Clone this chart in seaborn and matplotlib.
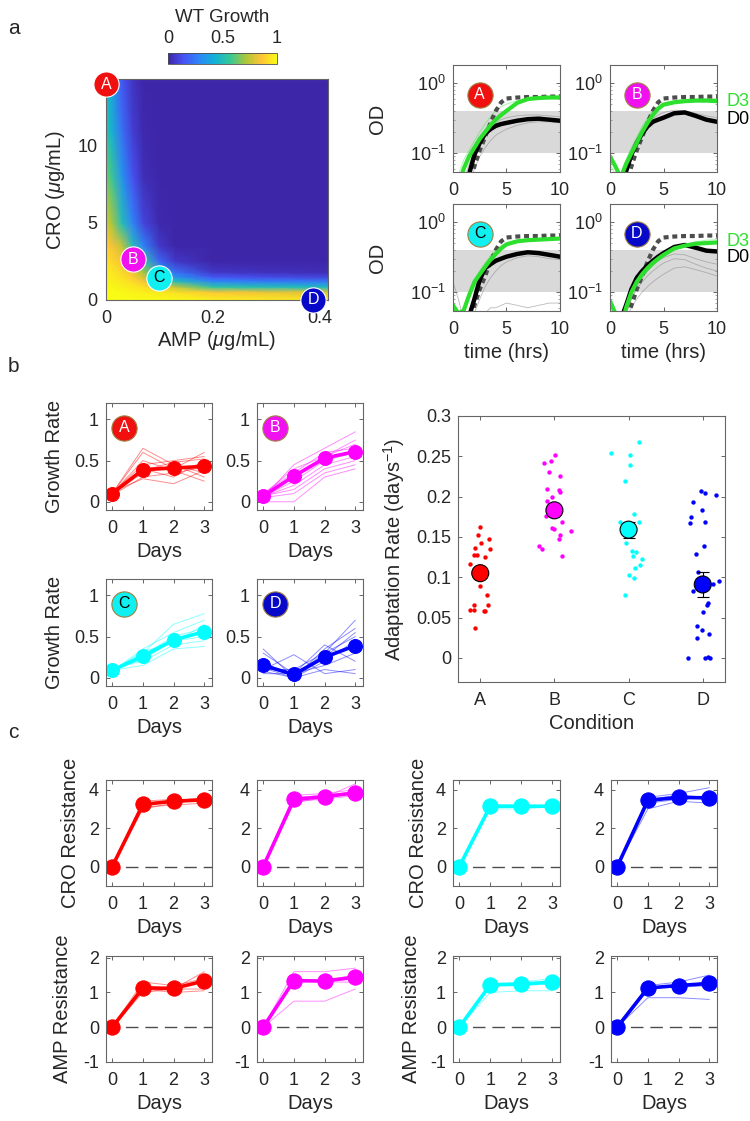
import matplotlib
matplotlib.use("Agg")
import matplotlib.pyplot as plt
from matplotlib.colors import LinearSegmentedColormap
import numpy as np
import pandas as pd
import seaborn as sns

sns.set_style("ticks")
plt.rcParams["font.family"] = ["Liberation Sans", "DejaVu Sans"]
plt.rcParams["axes.unicode_minus"] = False
plt.rcParams["mathtext.fontset"] = "custom"
plt.rcParams["mathtext.rm"] = "Liberation Sans"
plt.rcParams["mathtext.it"] = "Liberation Sans:italic"

W, H = 750, 1121
LABEL_FS = 14.5
TICK_FS = 13

conditions = ["A", "B", "C", "D"]
line_colors = ["#ff0000", "#ff00ff", "#00ffff", "#0000ff"]
badge_colors = ["#f01010", "#f010f0", "#10f0f0", "#0808c8"]
badge_text = ["white", "white", "black", "white"]

# ---- panel a: WT growth landscape (values read at grid nodes)
amp_nodes = [0, 0.01, 0.03, 0.05, 0.07, 0.1, 0.13, 0.2, 0.3, 0.415]
cro_nodes = [0, 0.5, 0.85, 1.2, 1.5, 1.8, 2.5, 3.5, 5, 8, 11, 14.35]
wt_growth = [
    [1.00, 1.00, 1.00, 1.00, 1.00, 1.00, 0.99, 0.97, 0.95, 0.93],
    [1.00, 1.00, 1.00, 0.98, 0.97, 0.95, 0.93, 0.86, 0.83, 0.80],
    [0.99, 0.99, 0.97, 0.95, 0.93, 0.85, 0.75, 0.55, 0.50, 0.48],
    [0.98, 0.97, 0.95, 0.92, 0.85, 0.68, 0.50, 0.30, 0.26, 0.25],
    [0.97, 0.96, 0.93, 0.88, 0.78, 0.52, 0.33, 0.15, 0.12, 0.10],
    [0.96, 0.95, 0.91, 0.84, 0.70, 0.42, 0.22, 0.06, 0.04, 0.03],
    [0.93, 0.91, 0.85, 0.72, 0.55, 0.20, 0.06, 0.00, 0.00, 0.00],
    [0.88, 0.85, 0.75, 0.50, 0.28, 0.06, 0.00, 0.00, 0.00, 0.00],
    [0.78, 0.72, 0.50, 0.28, 0.10, 0.01, 0.00, 0.00, 0.00, 0.00],
    [0.65, 0.58, 0.33, 0.14, 0.03, 0.00, 0.00, 0.00, 0.00, 0.00],
    [0.52, 0.45, 0.22, 0.08, 0.01, 0.00, 0.00, 0.00, 0.00, 0.00],
    [0.45, 0.38, 0.16, 0.05, 0.00, 0.00, 0.00, 0.00, 0.00, 0.00],
]
cond_amp = [0.0, 0.05, 0.10, 0.387]
cond_cro = [14.0, 2.66, 1.43, 0.0]

parula = LinearSegmentedColormap.from_list("parula", [
    (0.2422, 0.1504, 0.6603), (0.2810, 0.3228, 0.9579), (0.1786, 0.5289, 0.9682),
    (0.0689, 0.6948, 0.8394), (0.2161, 0.7843, 0.5923), (0.6720, 0.7793, 0.2227),
    (0.9970, 0.7659, 0.2199), (0.9769, 0.9839, 0.0805)])

# ---- panel a: OD curves
od_time = [0, 0.5, 1, 1.5, 2, 2.5, 3, 3.5, 4, 4.5, 5, 6, 7, 8, 9, 10]
od_ref = [0.005, 0.008, 0.015, 0.035, 0.065, 0.11, 0.17, 0.27, 0.40, 0.53, 0.60, 0.62, 0.63, 0.63, 0.64, 0.64]
od_d0 = {
    "A": [0.01, 0.015, 0.025, 0.05, 0.095, 0.14, 0.19, 0.22, 0.245, 0.26, 0.27, 0.29, 0.305, 0.31, 0.30, 0.29],
    "B": [0.01, 0.015, 0.03, 0.055, 0.095, 0.14, 0.19, 0.24, 0.28, 0.30, 0.32, 0.37, 0.38, 0.34, 0.30, 0.28],
    "C": [0.01, 0.015, 0.025, 0.045, 0.08, 0.15, 0.22, 0.25, 0.28, 0.30, 0.32, 0.35, 0.37, 0.36, 0.34, 0.32],
    "D": [0.01, 0.015, 0.04, 0.065, 0.11, 0.16, 0.20, 0.24, 0.28, 0.32, 0.36, 0.44, 0.47, 0.43, 0.39, 0.38],
}
od_d3 = {
    "A": [0.02, 0.035, 0.06, 0.09, 0.12, 0.16, 0.20, 0.25, 0.30, 0.35, 0.40, 0.52, 0.59, 0.61, 0.62, 0.62],
    "B": [0.09, 0.065, 0.045, 0.07, 0.10, 0.14, 0.20, 0.27, 0.35, 0.43, 0.49, 0.53, 0.55, 0.56, 0.56, 0.55],
    "C": [0.065, 0.05, 0.055, 0.09, 0.14, 0.18, 0.23, 0.29, 0.35, 0.42, 0.48, 0.53, 0.55, 0.56, 0.57, 0.58],
    "D": [0.075, 0.05, 0.03, 0.06, 0.10, 0.14, 0.18, 0.22, 0.26, 0.30, 0.34, 0.42, 0.46, 0.49, 0.50, 0.51],
}
# a few of the faint single-replicate traces
od_faint_d0 = {
    "A": [[0.01, 0.02, 0.04, 0.07, 0.11, 0.15, 0.19, 0.23, 0.27, 0.30, 0.32, 0.34, 0.35, 0.35, 0.34, 0.33],
          [0.01, 0.015, 0.02, 0.035, 0.06, 0.09, 0.12, 0.15, 0.18, 0.2, 0.22, 0.25, 0.27, 0.28, 0.28, 0.27]],
    "B": [[0.01, 0.02, 0.035, 0.06, 0.1, 0.15, 0.2, 0.26, 0.31, 0.35, 0.38, 0.41, 0.4, 0.37, 0.34, 0.32]],
    "C": [[0.14, 0.08, 0.04, 0.03, 0.05, 0.08, 0.12, 0.16, 0.2, 0.24, 0.27, 0.31, 0.33, 0.32, 0.3, 0.29],
          [0.01, 0.01, 0.015, 0.02, 0.03, 0.04, 0.05, 0.06, 0.06, 0.065, 0.07, 0.065, 0.06, 0.065, 0.07, 0.07]],
    "D": [[0.01, 0.015, 0.03, 0.05, 0.08, 0.11, 0.14, 0.17, 0.20, 0.23, 0.26, 0.30, 0.29, 0.25, 0.22, 0.20],
          [0.01, 0.015, 0.025, 0.04, 0.06, 0.08, 0.10, 0.12, 0.14, 0.16, 0.18, 0.22, 0.23, 0.21, 0.19, 0.17],
          [0.01, 0.015, 0.03, 0.05, 0.08, 0.12, 0.16, 0.20, 0.24, 0.28, 0.31, 0.35, 0.34, 0.30, 0.27, 0.25]],
}
od_faint_d3 = {
    "A": [[0.03, 0.05, 0.08, 0.11, 0.15, 0.2, 0.26, 0.33, 0.4, 0.46, 0.5, 0.56, 0.6, 0.63, 0.64, 0.65]],
    "B": [[0.07, 0.05, 0.05, 0.08, 0.12, 0.17, 0.24, 0.32, 0.4, 0.47, 0.52, 0.56, 0.58, 0.59, 0.6, 0.6]],
    "C": [[0.05, 0.045, 0.06, 0.1, 0.15, 0.2, 0.26, 0.33, 0.4, 0.46, 0.5, 0.55, 0.57, 0.58, 0.59, 0.6]],
    "D": [[0.06, 0.045, 0.05, 0.07, 0.1, 0.13, 0.16, 0.2, 0.24, 0.28, 0.32, 0.4, 0.47, 0.52, 0.55, 0.56]],
}

# ---- panel b: growth rate
days = [0, 1, 2, 3]
growth_mean = {
    "A": [0.10, 0.39, 0.41, 0.43],
    "B": [0.07, 0.31, 0.53, 0.61],
    "C": [0.09, 0.26, 0.46, 0.56],
    "D": [0.15, 0.04, 0.25, 0.39],
}
growth_reps = {
    "A": [[0.10, 0.65, 0.45, 0.35], [0.10, 0.60, 0.40, 0.60], [0.11, 0.45, 0.50, 0.55],
          [0.09, 0.40, 0.30, 0.50], [0.10, 0.35, 0.45, 0.30], [0.08, 0.30, 0.35, 0.42],
          [0.12, 0.28, 0.22, 0.38], [0.10, 0.50, 0.38, 0.25], [0.09, 0.38, 0.48, 0.52]],
    "B": [[0.05, 0.45, 0.65, 0.85], [0.08, 0.30, 0.55, 0.70], [0.06, 0.20, 0.45, 0.55],
          [0.10, 0.35, 0.60, 0.65], [0.07, 0.15, 0.40, 0.50], [0.05, 0.10, 0.35, 0.45],
          [0.09, 0.40, 0.55, 0.75], [0.06, 0.25, 0.50, 0.60], [0.00, 0.00, 0.30, 0.40]],
    "C": [[0.08, 0.35, 0.55, 0.70], [0.10, 0.30, 0.65, 0.78], [0.12, 0.20, 0.40, 0.45],
          [0.09, 0.15, 0.35, 0.38], [0.10, 0.28, 0.50, 0.60], [0.11, 0.22, 0.45, 0.50],
          [0.08, 0.32, 0.42, 0.65]],
    "D": [[0.35, 0.00, 0.25, 0.55], [0.10, 0.28, 0.05, 0.10], [0.20, 0.00, 0.35, 0.60],
          [0.05, 0.05, 0.15, 0.30], [0.15, 0.02, 0.30, 0.70], [0.08, 0.00, 0.20, 0.45],
          [0.30, 0.05, 0.40, 0.20], [0.12, 0.00, 0.10, 0.05], [0.10, 0.10, 0.30, 0.50]],
}

# ---- panel b: adaptation rate
adapt_x = {
    "A": [1.0, 0.964, 1.112, 1.009, 0.933, 1.126, 0.91, 0.955, 1.058, 0.865, 1.0, 1.09,
          0.919, 1.099, 0.856, 0.91, 1.045, 1.067, 0.933, 1.03, 0.97],
    "B": [2.013, 1.856, 1.956, 1.923, 2.081, 1.901, 2.058, 2.072, 1.969, 1.901, 1.888,
          2.103, 2.229, 1.969, 1.99, 2.081, 2.067, 1.789, 1.834, 2.103, 2.04],
    "C": [2.758, 3.139, 3.013, 3.022, 2.956, 3.067, 2.879, 3.139, 2.969, 3.045, 3.103,
          3.058, 3.179, 3.148, 3.09, 3.004, 3.072, 2.956],
    "D": [3.982, 4.027, 4.184, 3.87, 3.848, 3.996, 3.834, 4.027, 3.915, 4.013, 3.937,
          4.139, 4.215, 3.87, 4.071, 4.063, 4.004, 3.929, 3.996, 3.929, 4.081, 3.802,
          4.027, 4.071, 4.104],
}
adapt_y = {
    "A": [0.162, 0.152, 0.147, 0.143, 0.136, 0.135, 0.128, 0.128, 0.125, 0.117, 0.089, 0.078,
          0.066, 0.065, 0.059, 0.059, 0.058, 0.058, 0.037, 0.108, 0.100],
    "B": [0.252, 0.242, 0.244, 0.230, 0.225, 0.209, 0.208, 0.206, 0.200, 0.194, 0.176,
          0.169, 0.157, 0.161, 0.160, 0.152, 0.148, 0.139, 0.135, 0.126, 0.185],
    "C": [0.254, 0.268, 0.251, 0.239, 0.219, 0.179, 0.169, 0.168, 0.143, 0.132, 0.131,
          0.126, 0.122, 0.115, 0.111, 0.103, 0.099, 0.078],
    "D": [0.2075, 0.205, 0.202, 0.193, 0.175, 0.184, 0.167, 0.169, 0.129, 0.139, 0.106,
          0.092, 0.095, 0.083, 0.068, 0.065, 0.057, 0.040, 0.035, 0.025, 0.029, 0.0,
          0.0, 0.001, 0.0],
}
adapt_mean = [0.105, 0.183, 0.159, 0.091]
adapt_err = [0.006, 0.006, 0.010, 0.015]

# ---- panel c: resistance
cro_mean = {"A": [0, 3.23, 3.40, 3.47], "B": [0, 3.49, 3.64, 3.83],
            "C": [0, 3.14, 3.14, 3.14], "D": [0, 3.44, 3.60, 3.57]}
cro_reps = {
    "A": [[0, 3.0, 3.3, 3.5], [0, 3.4, 3.5, 3.4], [0, 3.1, 3.2, 3.3], [0, 3.3, 3.4, 3.6]],
    "B": [[0, 3.3, 3.6, 4.3], [0, 3.6, 3.7, 3.9], [0, 3.4, 3.5, 3.7], [0, 3.7, 3.8, 4.0]],
    "C": [[0, 3.1, 3.1, 3.2], [0, 3.2, 3.2, 3.1], [0, 3.0, 3.0, 3.1]],
    "D": [[0, 3.0, 3.4, 3.3], [0, 3.6, 3.8, 4.1], [0, 3.3, 3.5, 3.6], [0, 3.5, 3.7, 3.6]],
}
amp_mean = {"A": [0, 1.13, 1.12, 1.33], "B": [0, 1.34, 1.33, 1.44],
            "C": [0, 1.22, 1.24, 1.30], "D": [0, 1.13, 1.20, 1.26]}
amp_reps = {
    "A": [[0, 1.0, 1.1, 1.6], [0, 1.2, 1.1, 1.1], [0, 1.3, 1.2, 1.4], [0, 1.1, 1.0, 1.05]],
    "B": [[0, 1.6, 1.6, 1.7], [0, 0.75, 0.75, 1.1], [0, 1.3, 1.35, 1.5], [0, 1.4, 1.3, 1.3]],
    "C": [[0, 1.0, 1.05, 1.05], [0, 1.25, 1.3, 1.4], [0, 1.2, 1.2, 1.25]],
    "D": [[0, 0.85, 0.85, 0.8], [0, 1.2, 1.3, 1.5], [0, 1.1, 1.2, 1.3], [0, 1.15, 1.15, 1.2]],
}

fig = plt.figure(figsize=(W / 100, H / 100), dpi=100)


def add_ax(x0, y0, x1, y1):
    return fig.add_axes([x0 / W, 1 - y1 / H, (x1 - x0) / W, (y1 - y0) / H])


def style_ax(ax, xpad=7, ypad=5, length=3):
    ax.tick_params(direction="in", top=True, right=True, length=length, width=0.6,
                   labelsize=TICK_FS, color="0.3")
    ax.tick_params(axis="x", pad=xpad)
    ax.tick_params(axis="y", pad=ypad)
    for s in ax.spines.values():
        s.set_color("0.4")
        s.set_linewidth(0.8)


def badge(ax, x, y, i, transform=None, edge="#a08040"):
    tr = transform if transform is not None else ax.transData
    ax.scatter([x], [y], s=330, color=badge_colors[i], edgecolor=edge, linewidth=0.8,
               zorder=10, clip_on=False, transform=tr)
    ax.text(x, y, conditions[i], color=badge_text[i], ha="center", va="center",
            fontsize=11.5, zorder=11, clip_on=False, transform=tr)


def reps_frame(reps, xs):
    rows = [{"rep": r, "x": x, "val": v}
            for r, row in enumerate(reps) for x, v in zip(xs, row)]
    return pd.DataFrame(rows)


def day_panel(ax, mean, reps, i, ms=10):
    col = line_colors[i]
    sns.lineplot(data=reps_frame(reps, days), x="x", y="val", units="rep", estimator=None,
                 color=col, lw=0.7, alpha=0.45, ax=ax, legend=False)
    sns.lineplot(x=days, y=mean, color=col, lw=2.6, marker="o", markersize=ms,
                 markeredgecolor=col, ax=ax)
    ax.set_xticks(days)
    ax.set_xlim(-0.2, 3.25)
    ax.set_xlabel("Days", fontsize=LABEL_FS)
    ax.set_ylabel("")


# heatmap
ax = add_ax(106, 79, 328, 300)
X, Y = np.meshgrid(amp_nodes, cro_nodes)
mesh = ax.pcolormesh(X, Y, np.array(wt_growth), cmap=parula, vmin=0, vmax=1,
                     shading="gouraud", rasterized=True)
ax.set_xlim(0, 0.415)
ax.set_ylim(0, 14.35)
ax.set_xticks([0, 0.2, 0.4], ["0", "0.2", "0.4"])
ax.set_yticks([0, 5, 10], ["0", "5", "10"])
style_ax(ax, xpad=7, ypad=6, length=0)
ax.set_xlabel(r"AMP ($\mu$g/mL)", fontsize=LABEL_FS, labelpad=2)
ax.set_ylabel(r"CRO ($\mu$g/mL)", fontsize=LABEL_FS)
ax.yaxis.set_label_coords(-0.176, 0.5)
for i in range(4):
    badge(ax, cond_amp[i], cond_cro[i], i, edge="white")

cax = add_ax(168, 53, 277, 64)
cb = fig.colorbar(mesh, cax=cax, orientation="horizontal")
cax.xaxis.set_ticks_position("top")
cax.xaxis.set_label_position("top")
cb.set_ticks([0, 0.5, 1], labels=["0", "0.5", "1"])
cax.tick_params(length=0, labelsize=TICK_FS, pad=4)
cb.set_label("WT Growth", fontsize=13.5, labelpad=6)
cb.outline.set_linewidth(0.6)
cb.outline.set_edgecolor("0.3")

# OD panels
od_boxes = [(453, 65, 560, 172), (610, 65, 717, 172), (453, 204, 560, 311), (610, 204, 717, 311)]
for i, c in enumerate(conditions):
    ax = add_ax(*od_boxes[i])
    ax.set_yscale("log")
    ax.axhspan(0.1, 0.4, color="0.85", lw=0, zorder=0)
    sns.lineplot(data=reps_frame(od_faint_d0[c], od_time), x="x", y="val", units="rep",
                 estimator=None, color="0.55", lw=0.6, alpha=0.6, ax=ax, legend=False)
    sns.lineplot(data=reps_frame(od_faint_d3[c], od_time), x="x", y="val", units="rep",
                 estimator=None, color="#2ee02e", lw=0.8, alpha=0.35, ax=ax, legend=False)
    sns.lineplot(x=od_time, y=od_ref, color="0.3", lw=3, ls=(0, (1.2, 0.9)), ax=ax)
    sns.lineplot(x=od_time, y=od_d0[c], color="black", lw=3.2, ax=ax)
    sns.lineplot(x=od_time, y=od_d3[c], color="#2ee02e", lw=3, ax=ax)
    ax.set_xlim(0, 10)
    ax.set_ylim(0.054, 1.8)
    ax.set_xticks([0, 5, 10], ["0", "5", "10"])
    ax.set_yticks([0.1, 1])
    style_ax(ax)
    ax.tick_params(which="minor", direction="in", length=1.5, width=0.4, right=True, color="0.4")
    ax.set_xlabel("time (hrs)" if i >= 2 else "", fontsize=LABEL_FS)
    if i % 2 == 0:
        ax.set_ylabel("OD", fontsize=LABEL_FS)
        ax.yaxis.set_label_coords(-0.62, 0.5)
    else:
        ax.set_ylabel("")
    badge(ax, 0.25, 0.72, i, transform=ax.transAxes)

for yd3, yd0 in [(102, 120), (242, 258)]:
    fig.text(726 / W, 1 - yd3 / H, "D3", color="#2ee02e", fontsize=13, va="center")
    fig.text(726 / W, 1 - yd0 / H, "D0", color="black", fontsize=13, va="center")

# growth rate panels
gr_boxes = [(106, 403, 212, 510), (257, 403, 363, 510), (106, 579, 212, 686), (257, 579, 363, 686)]
for i, c in enumerate(conditions):
    ax = add_ax(*gr_boxes[i])
    day_panel(ax, growth_mean[c], growth_reps[c], i)
    ax.set_ylim(-0.1, 1.2)
    ax.set_yticks([0, 0.5, 1], ["0", "0.5", "1"])
    style_ax(ax)
    if i % 2 == 0:
        ax.set_ylabel("Growth Rate", fontsize=LABEL_FS)
        ax.yaxis.set_label_coords(-0.40, 0.5)
    badge(ax, 0.17, 0.77, i, transform=ax.transAxes)

# adaptation rate
ax = add_ax(458, 416, 725, 682)
for i, c in enumerate(conditions):
    sns.scatterplot(x=adapt_x[c], y=adapt_y[c], color=line_colors[i], s=10,
                    linewidth=0, ax=ax, zorder=2)
ax.errorbar([1, 2, 3, 4], adapt_mean, yerr=adapt_err, fmt="none", ecolor="black",
            elinewidth=0.8, capsize=4, capthick=0.8, zorder=3)
sns.scatterplot(x=[1, 2, 3, 4], y=adapt_mean, hue=conditions, palette=line_colors,
                s=150, edgecolor="black", linewidth=0.8, ax=ax, legend=False, zorder=4)
ax.set_xlim(0.7, 4.3)
ax.set_ylim(-0.03, 0.3)
ax.set_xticks([1, 2, 3, 4], conditions)
ax.set_yticks([0, 0.05, 0.1, 0.15, 0.2, 0.25, 0.3],
              ["0", "0.05", "0.1", "0.15", "0.2", "0.25", "0.3"])
style_ax(ax)
ax.set_xlabel("Condition", fontsize=LABEL_FS)
ax.set_ylabel(r"Adaptation Rate (days$^{-1}$)", fontsize=LABEL_FS)
ax.yaxis.set_label_coords(-0.19, 0.5)

# resistance panels
col_x = [(106, 212), (257, 363), (453, 560), (611, 717)]
cro_label_x = {0: -0.245, 2: -0.234}
amp_label_x = {0: -0.32, 2: -0.30}
for i, c in enumerate(conditions):
    x0, x1 = col_x[i]
    ax = add_ax(x0, 780, x1, 886)
    ax.axhline(0, color="0.3", lw=1, ls=(0, (9, 5)), zorder=1)
    day_panel(ax, cro_mean[c], cro_reps[c], i, ms=11)
    ax.set_ylim(-1, 4.5)
    ax.set_yticks([0, 2, 4], ["0", "2", "4"])
    style_ax(ax)
    if i in cro_label_x:
        ax.set_ylabel("CRO Resistance", fontsize=LABEL_FS)
        ax.yaxis.set_label_coords(cro_label_x[i], 0.5)

    ax = add_ax(x0, 956, x1, 1062)
    ax.axhline(0, color="0.3", lw=1, ls=(0, (9, 5)), zorder=1)
    day_panel(ax, amp_mean[c], amp_reps[c], i, ms=11)
    ax.set_ylim(-1, 2.05)
    ax.set_yticks([-1, 0, 1, 2], ["-1", "0", "1", "2"])
    style_ax(ax)
    if i in amp_label_x:
        ax.set_ylabel("AMP Resistance", fontsize=LABEL_FS)
        ax.yaxis.set_label_coords(amp_label_x[i], 0.5)

for letter, y in [("a", 28), ("b", 367), ("c", 732)]:
    fig.text(8 / W, 1 - y / H, letter, fontsize=15, va="center")

fig.savefig("out.png", dpi=100)
